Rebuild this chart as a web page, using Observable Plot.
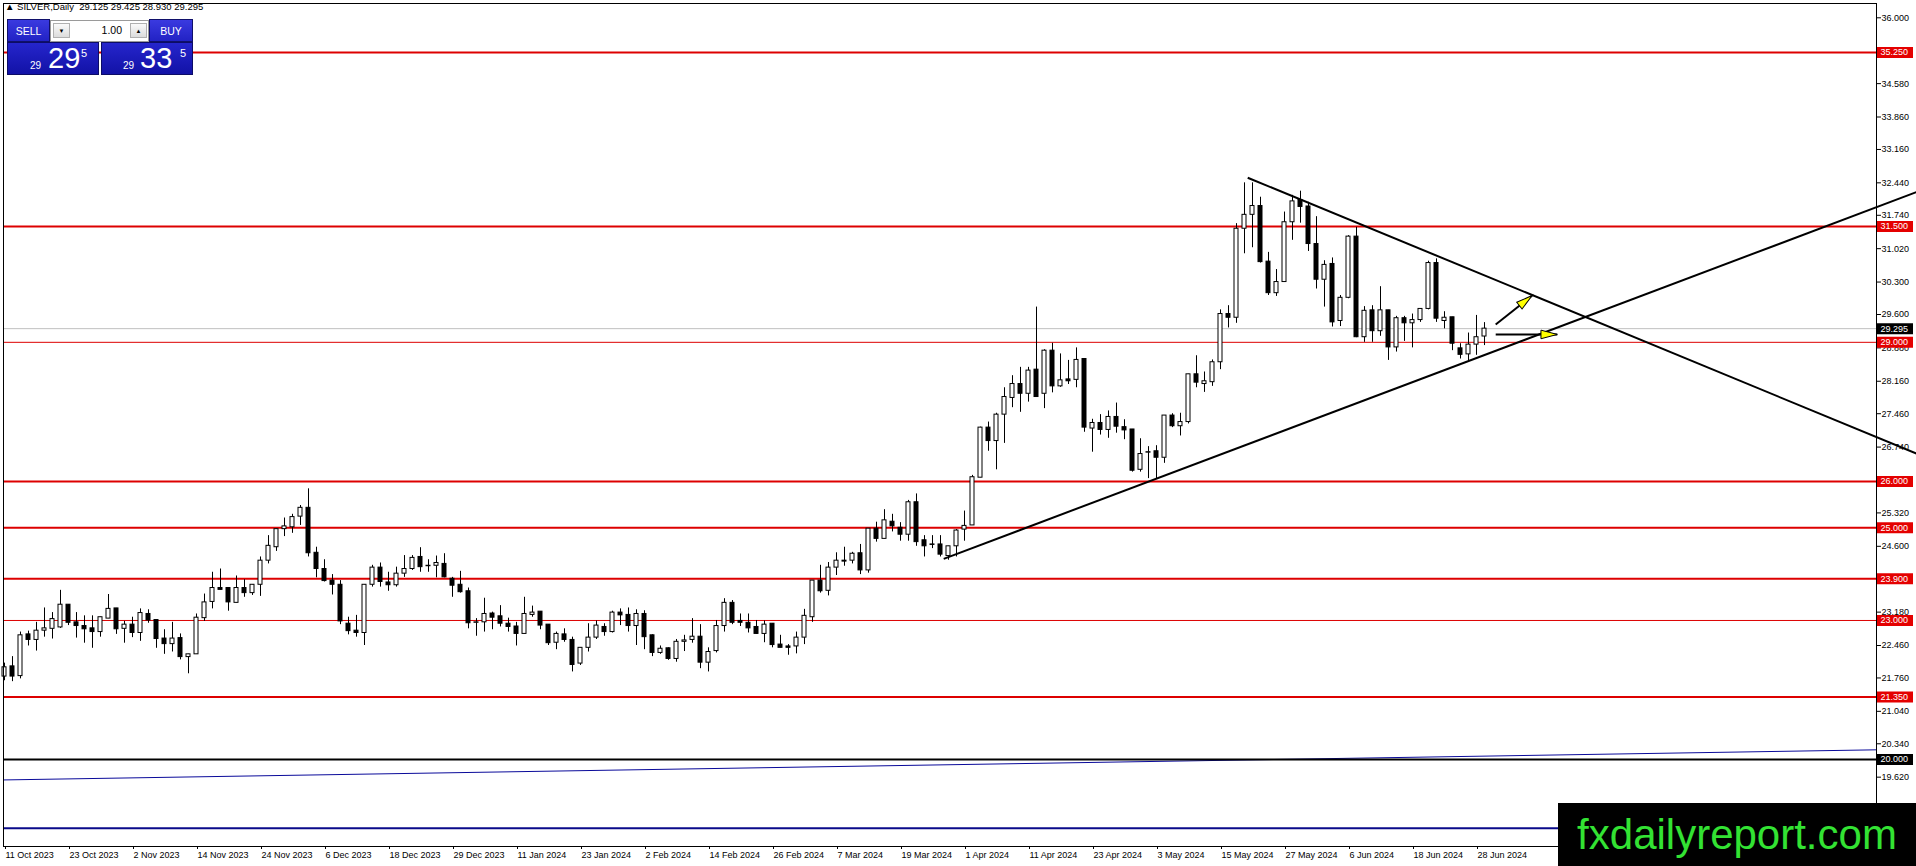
<!DOCTYPE html>
<html><head><meta charset="utf-8">
<script src="https://cdn.jsdelivr.net/npm/d3@7"></script>
<script src="https://cdn.jsdelivr.net/npm/@observablehq/plot@0.6"></script>
<style>
html,body{margin:0;padding:0;background:#fff;overflow:hidden;}
#wrap{position:relative;width:1916px;height:866px;font-family:"Liberation Sans",Arial,sans-serif;}
#wrap svg{display:block;}
.abs{position:absolute;}
#title{left:5px;top:2px;font-size:9.5px;line-height:10px;color:#000;white-space:pre;}
.btn{position:absolute;background:linear-gradient(#3a3ae0,#2222c4);color:#fff;font-size:10.5px;display:flex;align-items:center;justify-content:center;border:1px solid #10106a;box-sizing:border-box;}
.spin{position:absolute;background:#fff;border:1px solid #9a9a9a;box-sizing:border-box;}
.arr{position:absolute;top:2px;width:17px;height:15px;background:linear-gradient(#fafafa,#dcdcdc);border:1px solid #b0b0b0;box-sizing:border-box;font-size:6px;display:flex;align-items:center;justify-content:center;color:#000;}
.lot{position:absolute;right:26px;top:3px;font-size:10.5px;line-height:13px;color:#000;}
.big{position:absolute;background:linear-gradient(#2525cc,#1212a6);border:1px solid #0c0c66;box-sizing:border-box;color:#fff;}
.big div{position:absolute;line-height:1;white-space:nowrap;}
#wm{left:1558px;top:803px;width:358px;height:63px;background:#000;color:#33e233;font-size:42px;line-height:63px;text-align:center;letter-spacing:0px;}
</style></head>
<body><div id="wrap"></div>
<script>
// ---- OHLC values (daily bars, 11 Oct 2023 .. 1 Jul 2024) ----
const open = [
21.79,22.01,21.80,22.70,22.58,22.78,22.82,22.85,23.34,22.96,
22.88,22.83,22.75,23.04,23.26,22.82,22.91,22.73,23.14,23.01,
22.61,22.49,22.62,22.21,22.27,23.05,23.40,23.70,23.70,23.38,
23.70,23.59,23.77,24.29,24.58,24.97,25.01,25.24,25.43,24.46,
24.11,23.86,23.77,22.93,22.78,22.73,23.77,24.14,23.82,23.76,
24.01,24.11,24.37,24.17,24.18,24.22,23.90,23.77,23.63,22.95,
22.96,23.15,23.09,22.93,22.87,22.71,23.12,23.19,22.91,22.52,
22.70,22.58,22.07,22.41,22.63,22.86,22.75,23.17,23.12,22.88,
23.14,22.68,22.30,22.40,22.17,22.54,22.58,22.65,22.09,22.34,
22.88,23.38,22.99,22.95,22.86,22.71,22.93,22.48,22.44,22.44,
22.63,23.07,23.86,23.64,24.14,24.29,24.29,24.45,24.08,24.98,
24.76,25.13,25.00,24.85,25.55,24.73,24.64,24.64,24.39,24.60,
24.96,25.05,26.08,27.16,26.87,27.44,27.80,28.10,27.89,28.41,
27.89,28.82,28.05,28.20,28.19,28.64,27.14,27.26,27.11,27.39,
27.17,27.12,26.25,26.62,26.65,26.51,27.42,27.19,27.28,28.31,
28.10,28.14,28.57,29.61,29.53,31.45,31.75,31.94,30.74,30.06,
30.30,31.59,32.07,31.93,31.12,30.35,30.69,29.46,29.96,31.28,
29.11,29.69,29.24,29.69,28.89,29.52,29.41,29.48,29.72,30.71,
29.46,29.54,28.87,28.74,28.95,29.125];
const high = [
22.08,22.22,22.75,22.77,22.96,23.27,23.17,23.65,23.34,23.17,
23.10,23.10,23.07,23.56,23.26,22.98,23.07,23.25,23.23,23.01,
22.80,22.96,22.71,22.27,23.14,23.57,24.04,24.11,23.70,23.96,
23.88,23.77,24.37,24.83,24.97,25.21,25.29,25.48,25.84,24.58,
24.31,23.99,23.86,23.07,23.11,23.77,24.19,24.24,24.04,24.15,
24.40,24.40,24.57,24.31,24.39,24.44,23.93,24.06,23.70,23.04,
23.48,23.18,23.32,23.05,22.96,23.50,23.31,23.19,22.91,22.75,
22.82,22.64,22.41,22.93,22.99,22.93,23.20,23.25,23.27,23.23,
23.21,22.69,22.45,22.41,22.59,22.68,23.04,22.91,22.41,23.00,
23.47,23.43,23.14,23.14,23.00,22.99,22.93,22.68,22.48,22.75,
23.24,23.86,24.19,24.25,24.46,24.58,24.47,24.64,24.98,25.12,
25.39,25.29,25.11,25.59,25.73,24.83,24.83,24.83,24.60,24.96,
25.36,26.13,27.17,27.28,27.47,28.02,28.28,28.46,28.46,29.76,
28.84,28.98,28.75,28.61,28.88,28.64,27.34,27.44,27.52,27.69,
27.33,27.12,26.92,26.75,26.77,27.42,27.46,27.47,28.31,28.71,
28.36,28.62,29.70,29.79,31.56,32.44,32.44,32.13,30.94,30.57,
31.81,32.17,32.26,32.02,31.71,30.76,30.82,30.01,31.30,31.48,
29.77,29.79,30.20,29.69,29.56,29.56,29.61,29.72,30.75,30.80,
29.66,29.54,28.97,29.20,29.58,29.425];
const low = [
21.70,21.68,21.74,22.45,22.34,22.64,22.60,22.83,22.89,22.62,
22.51,22.40,22.64,23.04,22.70,22.51,22.63,22.55,22.94,22.40,
22.27,22.32,22.15,21.85,22.27,22.98,23.25,23.66,23.20,23.38,
23.50,23.54,23.52,24.22,24.49,24.81,24.88,25.05,24.37,23.92,
23.83,23.55,22.91,22.69,22.64,22.46,23.72,23.72,23.63,23.72,
23.93,24.08,24.04,24.04,23.92,23.92,23.50,23.59,22.82,22.66,
22.75,22.80,22.86,22.75,22.45,22.71,23.07,22.80,22.46,22.37,
22.53,21.89,22.03,22.32,22.59,22.66,22.73,22.89,22.75,22.46,
22.37,22.22,22.27,22.14,22.10,22.33,22.51,21.96,21.89,22.30,
22.75,22.91,22.87,22.73,22.70,22.52,22.41,22.41,22.25,22.28,
22.48,22.96,23.59,23.53,23.97,24.17,24.22,23.99,24.02,24.69,
24.76,24.91,24.71,24.71,24.60,24.37,24.55,24.37,24.30,24.37,
24.71,25.05,26.08,26.65,26.25,26.82,27.59,27.49,27.71,27.82,
27.57,27.91,28.03,28.09,28.02,27.06,26.63,27.00,26.93,27.04,
26.90,26.20,26.20,26.06,26.06,26.39,27.16,26.98,27.24,28.02,
27.92,28.05,28.41,29.31,29.41,30.91,31.04,30.71,30.01,29.99,
30.30,31.20,31.57,30.96,30.15,29.76,29.33,29.34,29.94,29.10,
29.00,29.00,29.13,28.61,28.79,29.02,28.88,29.43,29.70,29.43,
29.29,28.82,28.64,28.60,28.72,28.930];
const close = [
21.99,21.79,22.68,22.58,22.78,22.83,23.03,23.34,22.95,22.88,
22.81,22.75,23.07,23.25,22.81,22.91,22.73,23.16,23.00,22.60,
22.49,22.61,22.21,22.27,23.06,23.39,23.70,23.66,23.39,23.70,
23.59,23.77,24.29,24.61,24.97,25.03,25.23,25.43,24.45,24.11,
23.85,23.77,22.98,22.77,22.73,23.77,24.14,23.83,23.76,24.01,
24.11,24.35,24.15,24.18,24.24,23.93,23.75,23.61,22.94,22.96,
23.14,23.06,22.93,22.86,22.71,23.14,23.17,22.89,22.51,22.71,
22.58,22.04,22.41,22.63,22.89,22.75,23.17,23.11,22.88,23.14,
22.64,22.30,22.39,22.17,22.54,22.57,22.65,22.09,22.32,22.88,
23.38,22.95,22.95,22.83,22.71,22.91,22.47,22.41,22.41,22.63,
23.10,23.86,23.63,24.14,24.29,24.27,24.44,24.08,24.98,24.76,
25.16,25.03,24.85,25.55,24.69,24.60,24.63,24.42,24.60,24.94,
25.04,26.09,27.16,26.87,27.44,27.82,28.10,27.89,28.39,27.82,
28.82,28.05,28.18,28.16,28.62,27.16,27.26,27.11,27.39,27.18,
27.10,26.23,26.59,26.63,26.51,27.42,27.19,27.28,28.31,28.13,
28.16,28.57,29.61,29.53,31.45,31.75,31.94,30.73,30.06,30.30,
31.59,32.04,31.92,31.12,30.35,30.67,29.43,29.96,31.28,29.11,
29.68,29.24,29.69,28.89,29.52,29.41,29.48,29.72,30.71,29.51,
29.53,28.97,28.73,28.95,29.11,29.295];

// ---- axis ticks ----
const xTickBars = [0,8,16,24,32,40,48,56,64,72,80,88,96,104,112,120,128,136,144,152,160,168,176,184];
const xTickLabels = ["11 Oct 2023","23 Oct 2023","2 Nov 2023","14 Nov 2023","24 Nov 2023","6 Dec 2023",
  "18 Dec 2023","29 Dec 2023","11 Jan 2024","23 Jan 2024","2 Feb 2024","14 Feb 2024","26 Feb 2024",
  "7 Mar 2024","19 Mar 2024","1 Apr 2024","11 Apr 2024","23 Apr 2024","3 May 2024","15 May 2024",
  "27 May 2024","6 Jun 2024","18 Jun 2024","28 Jun 2024"];
const yTicks = [36.00,34.58,33.86,33.16,32.44,31.74,31.02,30.30,29.60,28.88,28.16,27.46,26.74,
  25.32,24.60,23.18,22.46,21.76,21.04,20.34,19.62];

// ---- horizontal levels ----
const levelsThick = [35.25, 31.50, 26.00, 25.00, 23.90, 21.35];
const levelsThin = [29.00, 23.00];
const bidPrice = 29.295;
const roundLevel = 20.00;
const blueFlatLevel = 18.52;
const levelLabels = [35.25, 31.50, 29.00, 26.00, 25.00, 23.90, 23.00, 21.35];
const darkLabels = [29.295, 20.00];

// ---- trend lines / arrows (bar index, price) ----
const trendX1 = [117.4, 155.4, -0.125];
const trendY1 = [24.33, 32.55, 19.56];
const trendX2 = [239.0, 239.0, 234.0];
const trendY2 = [32.24, 26.60, 20.21];
const trendColor = ["black", "black", "#0a0a9a"];
const trendWidth = [2, 2, 1];
const arrowX1 = [186.4, 186.4];
const arrowY1 = [29.385, 29.17];
const arrowX2 = [190.96, 194.1];
const arrowY2 = [30.01, 29.17];

const titleText = "SILVER,Daily  29.125 29.425 28.930 29.295";

// ---------------------------------------------------------------
const xDomain = [-0.125, 234];
const yDomain = [18.1245, 36.3085];
const W = 1916, H = 866, mL = 3, mR = 40, mT = 3, mB = 20;
const pxX = (W - mL - mR) / (xDomain[1] - xDomain[0]);
const pxY = (H - mT - mB) / (yDomain[1] - yDomain[0]);

const bars = open.map((o, i) => ({i, o, h: high[i], l: low[i], c: close[i]}));
const trends = trendX1.map((x1, k) => ({x1, y1: trendY1[k], x2: trendX2[k], y2: trendY2[k], color: trendColor[k], w: trendWidth[k]}));
const arrows = arrowX1.map((x1, k) => {
  const a = {x1, y1: arrowY1[k], x2: arrowX2[k], y2: arrowY2[k]};
  a.angle = Math.atan2((a.x2 - a.x1) * pxX, (a.y2 - a.y1) * pxY) * 180 / Math.PI;
  return a;
});
const arrowHead = {
  draw(ctx, size) {
    const r = Math.sqrt(size / Math.PI);
    ctx.moveTo(0, 0);
    ctx.lineTo(r, 3.8 * r);
    ctx.lineTo(-r, 3.8 * r);
    ctx.closePath();
  }
};
const fmt = d3.format(".3f");
const boxX1 = xDomain[1] + 1 / pxX;
const boxX2 = xDomain[1] + 37 / pxX;
const labels = levelLabels.map(v => ({v, bg: "#e40000"})).concat(darkLabels.map(v => ({v, bg: "#000"})));

const chart = Plot.plot({
  width: W, height: H,
  marginLeft: mL, marginRight: mR, marginTop: mT, marginBottom: mB,
  x: {domain: xDomain, axis: null},
  y: {domain: yDomain, axis: null},
  color: {type: "identity"},
  style: {fontFamily: "Liberation Sans, Arial, sans-serif", fontSize: "9px", background: "#fff", color: "#000"},
  marks: [
    Plot.ruleY([blueFlatLevel], {stroke: "#0a0a8a", strokeWidth: 2}),
    Plot.link(trends.filter(d => d.color !== "black"), {x1: "x1", y1: "y1", x2: "x2", y2: "y2", stroke: "color", strokeWidth: "w"}),
    Plot.ruleY([bidPrice], {stroke: "#c0c0c0", strokeWidth: 1}),
    Plot.ruleY(levelsThick, {stroke: "#dd0000", strokeWidth: 2}),
    Plot.ruleY(levelsThin, {stroke: "#dd0000", strokeWidth: 1}),
    Plot.ruleY([roundLevel], {stroke: "#000", strokeWidth: 2}),
    Plot.ruleX(bars, {x: "i", y1: "l", y2: "h", stroke: "#000", strokeWidth: 1}),
    Plot.rect(bars, {x1: d => d.i - 0.25, x2: d => d.i + 0.25, y1: "o", y2: "c",
      fill: d => d.c >= d.o ? "#fff" : "#000", stroke: "#000", strokeWidth: 1}),
    Plot.frame({stroke: "#000", strokeWidth: 1}),
    Plot.axisY(yTicks, {anchor: "right", tickSize: 4, tickPadding: 1, tickFormat: fmt, label: null, fontSize: 9}),
    Plot.axisX(xTickBars, {anchor: "bottom", tickSize: 3, tickPadding: 2, textAnchor: "start", dx: 1,
      tickFormat: d => xTickLabels[xTickBars.indexOf(d)], label: null, fontSize: 9}),
    Plot.ruleY(labels, {y: "v", x1: boxX1, x2: boxX2, stroke: "bg", strokeWidth: 11}),
    Plot.text(labels, {y: "v", x: xDomain[1], dx: 4, textAnchor: "start", text: d => fmt(d.v), fill: "#fff", fontSize: 9}),
    Plot.link(trends.filter(d => d.color === "black"), {x1: "x1", y1: "y1", x2: "x2", y2: "y2", stroke: "color", strokeWidth: "w"}),
    Plot.link(arrows, {x1: "x1", y1: "y1", x2: "x2", y2: "y2", stroke: "#000", strokeWidth: 2}),
    Plot.dot(arrows, {x: "x2", y: "y2", rotate: "angle", symbol: arrowHead, r: 4.3, fill: "#ffff00", stroke: "#000", strokeWidth: 1})
  ]
});

const wrap = document.getElementById("wrap");
wrap.appendChild(chart);

function add(html) { wrap.insertAdjacentHTML("beforeend", html); }
add(`<div id="title" class="abs">▲ ${titleText}</div>`);
add(`<div class="btn" style="left:7px;top:19px;width:43px;height:23px;">SELL</div>`);
add(`<div class="spin" style="left:50px;top:20px;width:99px;height:22px;">
  <div class="arr" style="left:2px;">▼</div><div class="lot">1.00</div><div class="arr" style="left:79px;">▲</div></div>`);
add(`<div class="btn" style="left:149px;top:19px;width:44px;height:23px;">BUY</div>`);
add(`<div class="big" style="left:7px;top:42px;width:92px;height:33px;">
  <div style="left:22px;top:18px;font-size:10px;">29</div>
  <div style="left:40px;top:1px;font-size:29px;">29</div>
  <div style="left:73px;top:5px;font-size:11px;">5</div></div>`);
add(`<div class="big" style="left:101px;top:42px;width:92px;height:33px;">
  <div style="left:21px;top:18px;font-size:10px;">29</div>
  <div style="left:38px;top:1px;font-size:29px;">33</div>
  <div style="left:78px;top:5px;font-size:11px;">5</div></div>`);
add(`<div id="wm" class="abs">fxdailyreport.com</div>`);
</script>
</body></html>
